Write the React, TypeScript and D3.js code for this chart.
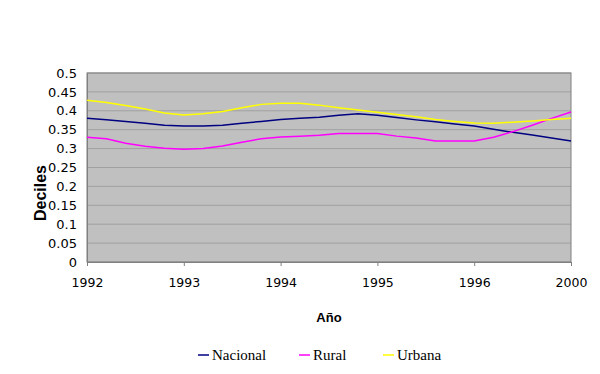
import React, { useEffect, useRef } from 'react';
import * as d3 from 'd3';

// x positions: 5 steps between each labelled year
const tickLabels = ['1992', '1993', '1994', '1995', '1996', '2000'];
const stepsPerTick = 5;

const nacional = [
  0.38, 0.376, 0.372, 0.367, 0.362, 0.36, 0.36, 0.362, 0.367, 0.372, 0.377, 0.38, 0.383,
  0.388, 0.392, 0.388, 0.382, 0.376, 0.371, 0.365, 0.36, 0.351, 0.343, 0.336, 0.328, 0.32,
];
const rural = [
  0.33, 0.326, 0.314, 0.306, 0.301, 0.298, 0.3, 0.307, 0.317, 0.326, 0.331, 0.333, 0.335,
  0.34, 0.34, 0.34, 0.333, 0.328, 0.32, 0.32, 0.32, 0.33, 0.345, 0.362, 0.38, 0.397,
];
const urbana = [
  0.428, 0.422, 0.414, 0.405, 0.394, 0.389, 0.392, 0.398, 0.408, 0.417, 0.42, 0.42, 0.415,
  0.408, 0.402, 0.396, 0.39, 0.384, 0.377, 0.372, 0.368, 0.367, 0.37, 0.373, 0.377, 0.38,
];
const yTicks = [0, 0.05, 0.1, 0.15, 0.2, 0.25, 0.3, 0.35, 0.4, 0.45, 0.5];

const series = [
  { name: 'Nacional', values: nacional, color: '#000080' },
  { name: 'Rural', values: rural, color: '#ff00ff' },
  { name: 'Urbana', values: urbana, color: '#ffff00' },
];

const App = () => {
  const svgRef = useRef<SVGSVGElement>(null);

  useEffect(() => {
    const W = 600;
    const H = 374;
    const margin = { top: 73, right: 29, bottom: 112, left: 87 };
    const width = W - margin.left - margin.right;
    const height = H - margin.top - margin.bottom;

    const root = d3.select(svgRef.current);
    root.selectAll('*').remove();

    root.append('rect')
      .attr('x', 1.5).attr('y', 1.5)
      .attr('width', 594).attr('height', 370)
      .attr('fill', 'white')
      .attr('stroke', '#e0e0e0');

    const svg = root.append('g').attr('transform', `translate(${margin.left},${margin.top})`);

    const n = (tickLabels.length - 1) * stepsPerTick;
    const x = d3.scaleLinear().domain([0, n]).range([0, width]);
    const y = d3.scaleLinear().domain([0, 0.5]).range([height, 0]);

    svg.append('rect')
      .attr('width', width).attr('height', height)
      .attr('fill', '#c0c0c0');

    svg.selectAll('.grid')
      .data(yTicks)
      .enter().append('line')
      .attr('x1', 0).attr('x2', width)
      .attr('y1', d => y(d)).attr('y2', d => y(d))
      .attr('stroke', '#a0a0a0')
      .attr('stroke-width', 1);

    svg.append('rect')
      .attr('width', width).attr('height', height)
      .attr('fill', 'none')
      .attr('stroke', '#808080')
      .attr('stroke-width', 1);

    // y axis
    const yAxis = svg.append('g')
      .call(d3.axisLeft(y).tickValues(yTicks).tickSize(0).tickPadding(10).tickFormat(d => String(d)));
    yAxis.select('.domain').attr('stroke', '#808080');
    yAxis.selectAll('text')
      .attr('font-family', 'DejaVu Sans, Verdana, sans-serif')
      .attr('font-size', 13)
      .attr('fill', '#000');

    // x axis
    const xAxis = svg.append('g')
      .attr('transform', `translate(0,${height})`)
      .call(d3.axisBottom(x)
        .tickValues(tickLabels.map((_, i) => i * stepsPerTick))
        .tickSize(4)
        .tickPadding(12)
        .tickFormat((_, i) => tickLabels[i]));
    xAxis.select('.domain').attr('stroke', '#808080');
    xAxis.selectAll('line').attr('stroke', '#808080');
    xAxis.selectAll('text')
      .attr('font-family', 'DejaVu Sans, Verdana, sans-serif')
      .attr('font-size', 12.5)
      .attr('fill', '#000');

    const line = d3.line<number>()
      .x((_, i) => x(i))
      .y(d => y(d));

    svg.selectAll('.series')
      .data(series)
      .enter().append('path')
      .attr('d', d => line(d.values))
      .attr('fill', 'none')
      .attr('stroke', d => d.color)
      .attr('stroke-width', 1.5);

    // axis titles
    root.append('text')
      .attr('transform', 'translate(46,193) rotate(-90)')
      .attr('text-anchor', 'middle')
      .attr('font-family', 'Liberation Sans, Arial, sans-serif')
      .attr('font-weight', 'bold')
      .attr('font-size', 16)
      .text('Deciles');

    root.append('text')
      .attr('x', margin.left + width / 2)
      .attr('y', 322)
      .attr('text-anchor', 'middle')
      .attr('font-family', 'Liberation Sans, Arial, sans-serif')
      .attr('font-weight', 'bold')
      .attr('font-size', 13)
      .text('Año');

    // legend
    const legendX = [198, 299, 383];
    const legend = root.selectAll('.legend')
      .data(series)
      .enter().append('g')
      .attr('transform', (_, i) => `translate(${legendX[i]},355)`);
    legend.append('line')
      .attr('x1', 0).attr('x2', 11)
      .attr('stroke', d => d.color)
      .attr('stroke-width', 1.5);
    legend.append('text')
      .attr('x', 14)
      .attr('dy', '0.35em')
      .attr('font-family', 'Liberation Serif, Times New Roman, serif')
      .attr('font-size', 15)
      .text(d => d.name);
  }, []);

  return <svg ref={svgRef} width={600} height={374} style={{ display: 'block', margin: '-8px' }}></svg>;
};

export default App;
